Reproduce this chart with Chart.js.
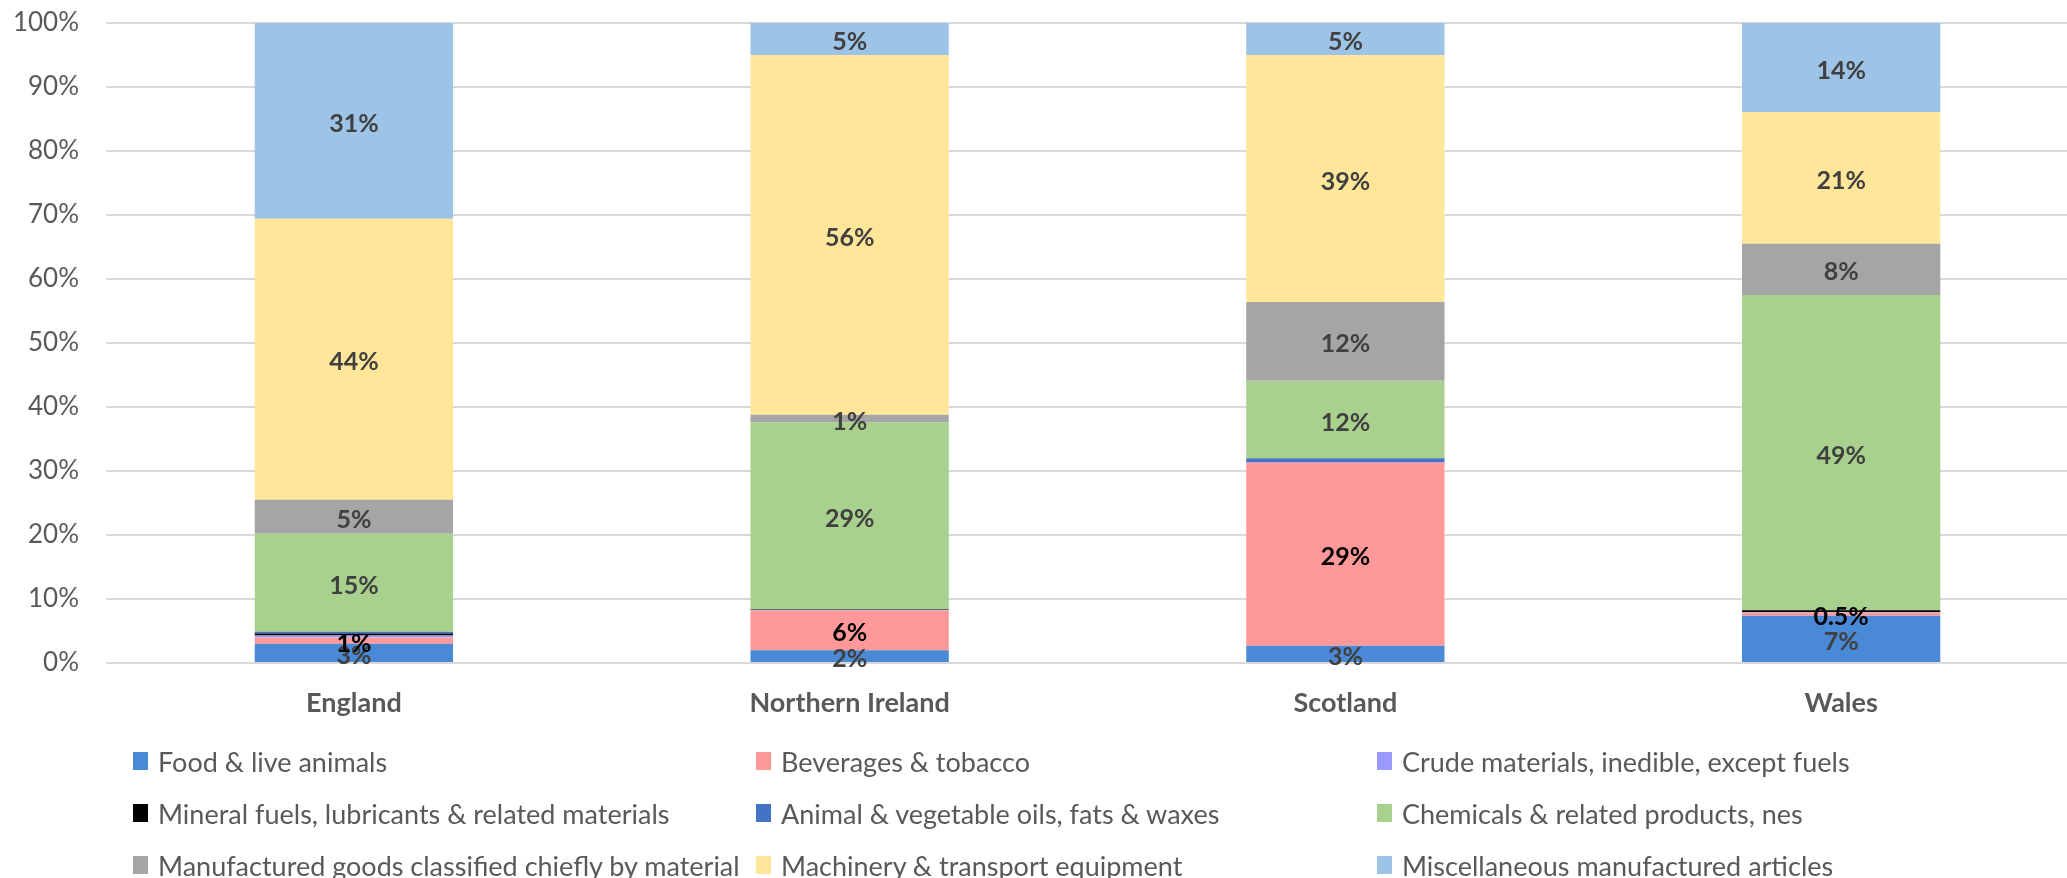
<!DOCTYPE html>
<html>
<head>
<meta charset="utf-8">
<script src="https://cdn.jsdelivr.net/npm/chart.js@4"></script>
<style>
  html, body { margin: 0; padding: 0; background: #fff; overflow: hidden; }
  #wrap { position: relative; width: 2095px; height: 878px; }
  #legend { position: absolute; left: 0; top: 0; width: 2067px; height: 878px; pointer-events: none;
            font-family: Lato, "Noto Sans", sans-serif; font-size: 27px; color: #595959; }
  .item { position: absolute; display: flex; align-items: center; white-space: nowrap; }
  .sw { width: 15px; height: 18px; margin-right: 10px; }
</style>
</head>
<body>
<div id="wrap">
  <canvas id="tradeChart"></canvas>
  <div id="legend"></div>
</div>
<script>
// shares of exports by SITC section, per nation (%)
const nations = ['England', 'Northern Ireland', 'Scotland', 'Wales'];
const sections = [
  'Food & live animals',
  'Beverages & tobacco',
  'Crude materials, inedible, except fuels',
  'Mineral fuels, lubricants & related materials',
  'Animal & vegetable oils, fats & waxes',
  'Chemicals & related products, nes',
  'Manufactured goods classified chiefly by material',
  'Machinery & transport equipment',
  'Miscellaneous manufactured articles'
];
const food        = [3.0, 2.0, 2.7, 7.4];
const beverages   = [1.0, 6.2, 28.6, 0.5];
const crude       = [0.3, 0.1, 0.05, 0.05];
const mineral     = [0.3, 0.05, 0.05, 0.3];
const oils        = [0.3, 0.05, 0.6, 0.05];
const chemicals   = [15.3, 29.2, 12.1, 49.2];
const manufGoods  = [5.3, 1.2, 12.3, 8.0];
const machinery   = [43.9, 56.2, 38.6, 20.6];
const misc        = [30.6, 5.0, 5.0, 13.9];
const yTicks = [0, 10, 20, 30, 40, 50, 60, 70, 80, 90, 100];

const series = [food, beverages, crude, mineral, oils, chemicals, manufGoods, machinery, misc];
const colours = ['#4a89d6', '#ff9999', '#9999ff', '#000000', '#4472c4', '#a9d18e', '#a5a5a5', '#ffe699', '#9dc3e6'];
const labelled = [true, true, false, false, false, true, true, true, true];

const datasets = series.map((vals, i) => ({
  label: sections[i],
  data: vals,
  backgroundColor: colours[i],
  borderWidth: 0,
  showLabels: labelled[i],
  labelColour: i === 1 ? '#000000' : '#404040'
}));

// values written in the middle of each segment
const segLabels = {
  id: 'segLabels',
  afterDatasetsDraw(chart) {
    const ctx = chart.ctx;
    ctx.save();
    ctx.font = 'bold 25px Lato, "Noto Sans", sans-serif';
    ctx.textAlign = 'center';
    ctx.textBaseline = 'middle';
    chart.data.datasets.forEach((ds, i) => {
      if (!ds.showLabels) return;
      const meta = chart.getDatasetMeta(i);
      meta.data.forEach((bar, j) => {
        const v = ds.data[j];
        const txt = v < 1 ? v.toFixed(1) + '%' : Math.round(v) + '%';
        ctx.fillStyle = ds.labelColour;
        ctx.fillText(txt, bar.x, (bar.y + bar.base) / 2 + 3);
      });
    });
    ctx.restore();
  }
};

const config = {
  type: 'bar',
  data: { labels: nations, datasets: datasets },
  options: {
    responsive: true,
    maintainAspectRatio: false,
    animation: false,
    layout: { padding: { top: 23, right: 6, bottom: 0, left: 0 } },
    plugins: { legend: { display: false }, tooltip: { enabled: false } },
    datasets: { bar: { categoryPercentage: 1, barPercentage: 0.4 } },
    scales: {
      x: {
        stacked: true,
        grid: { display: false, drawTicks: false },
        border: { display: false },
        ticks: { color: '#595959', padding: 24, font: { family: 'Lato', size: 27, weight: 'bold' } },
        afterFit: (s) => { s.height = 215; }
      },
      y: {
        stacked: true,
        min: 0,
        max: 100,
        afterBuildTicks: (s) => { s.ticks = yTicks.map(v => ({ value: v })); },
        // invisible tick marks keep the labels off the plot without padding the top
        grid: { color: '#d9d9d9', lineWidth: 2, drawTicks: true, tickLength: 27, tickColor: 'rgba(0,0,0,0)' },
        border: { display: false },
        ticks: { color: '#595959', padding: 0, font: { family: 'Lato', size: 26 }, callback: v => v + '%' },
        afterFit: (s) => { s.width = 106; }
      }
    }
  },
  plugins: [segLabels]
};

const tradeChart = new Chart(document.getElementById('tradeChart'), config);

// three column legend like the original
const legendCols = [133, 756, 1377];
const legendRows = [761, 813, 865];
const legend = document.getElementById('legend');
sections.forEach((name, i) => {
  const el = document.createElement('div');
  el.className = 'item';
  el.style.left = legendCols[i % 3] + 'px';
  el.style.top = (legendRows[Math.floor(i / 3)] - 16) + 'px';
  el.style.height = '32px';
  el.innerHTML = '<span class="sw" style="background:' + colours[i] + '"></span><span>' + name + '</span>';
  legend.appendChild(el);
});
</script>
</body>
</html>
